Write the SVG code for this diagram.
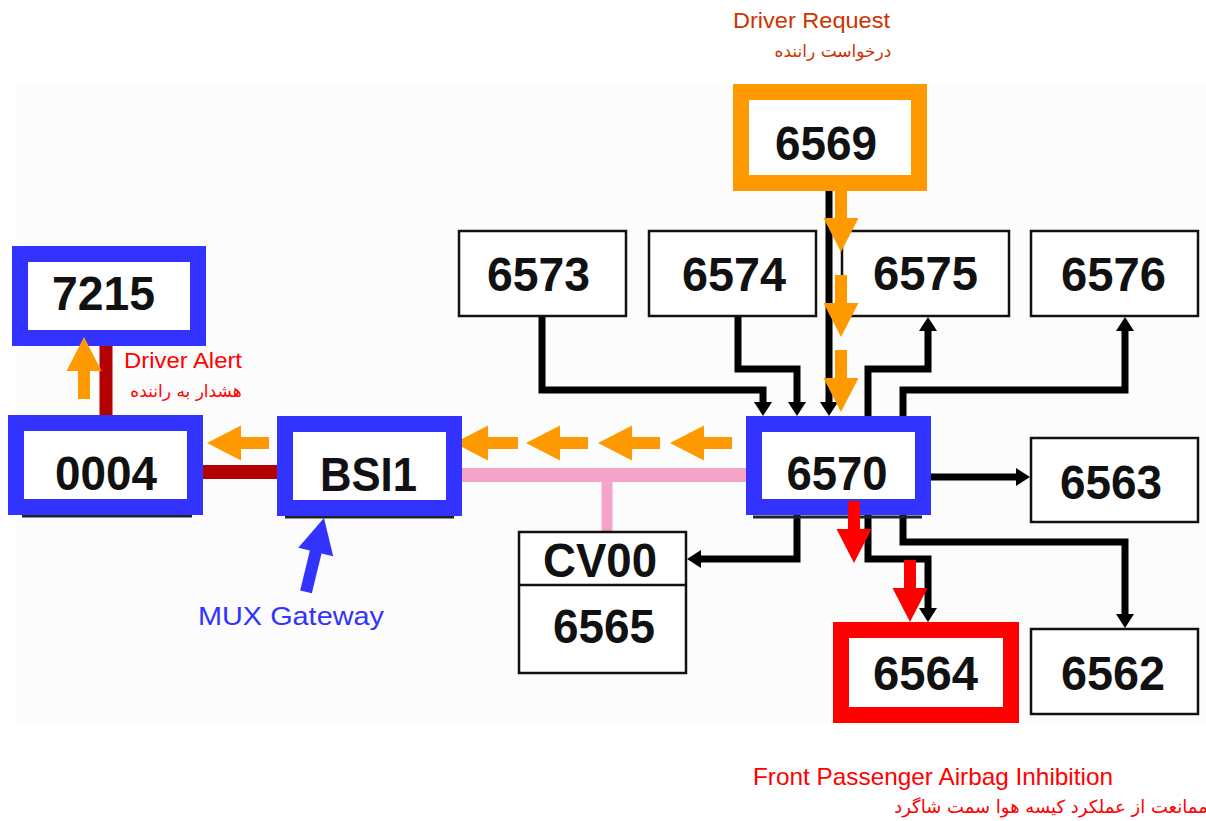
<svg xmlns="http://www.w3.org/2000/svg" width="1206" height="821" viewBox="0 0 1206 821">
<style>
.box{fill:#fff;stroke:#111;stroke-width:2.5}
.bb{fill:#fff;stroke:#3333ff;stroke-width:16}
.ob{fill:#fff;stroke:#ff9900;stroke-width:16}
.rb{fill:#fff;stroke:#ff0000;stroke-width:16}
.n{font-family:"Liberation Sans",Arial,sans-serif;font-weight:bold;font-size:48px;fill:#111;text-anchor:middle}
.c{fill:none;stroke:#000;stroke-width:7;stroke-linejoin:miter}
.lat{font-family:"Liberation Sans",Arial,sans-serif}
.fa{font-family:"DejaVu Sans","Noto Sans",sans-serif;text-anchor:middle}
.oa{fill:#ff9900}
.ra{fill:#ff0000}
.sh{stroke:#222;stroke-width:3}
</style>
<defs>
<marker id="ah" markerUnits="userSpaceOnUse" markerWidth="14" markerHeight="18" refX="6" refY="9" orient="auto" overflow="visible">
<path d="M0,0 L14,9 L0,18 Z" fill="#000"/>
</marker>
<path id="sig" d="M0,0 L34,-17.5 L34,-6 L62,-6 L62,6 L34,6 L34,17.5 Z"/>
</defs>
<rect x="17" y="85" width="1189" height="640" fill="#fcfcfc"/>

<g id="buses">
<path d="M106,346 V415" stroke="#b30000" stroke-width="13" fill="none"/>
<path d="M203,472 H277" stroke="#b30000" stroke-width="14" fill="none"/>
<path d="M462,475 H746" stroke="#f5a3c6" stroke-width="14" fill="none"/>
<path d="M607,475 V531" stroke="#f5a3c6" stroke-width="11" fill="none"/>
</g>

<g id="connectors">
<path class="c" d="M542,317 V390 H763 V408" marker-end="url(#ah)"/>
<path class="c" d="M738,317 V369 H797 V408" marker-end="url(#ah)"/>
<path class="c" d="M829,191 V408" marker-end="url(#ah)"/>
<path class="c" d="M868,416 V369 H928 V325" marker-end="url(#ah)"/>
<path class="c" d="M903,416 V390 H1125 V325" marker-end="url(#ah)"/>
<path class="c" d="M931,477 H1022" marker-end="url(#ah)"/>
<path class="c" d="M903,515 V542 H1125 V620" marker-end="url(#ah)"/>
<path class="c" d="M868,515 V559 H928 V614" marker-end="url(#ah)"/>
<path class="c" d="M797,515 V559 H695" marker-end="url(#ah)"/>
</g>

<g id="n6569"><rect class="ob" x="741" y="92" width="178" height="91"/><text class="n" x="826" y="160" font-size="56" textLength="102" lengthAdjust="spacingAndGlyphs">6569</text></g>
<g id="n6573"><rect class="box" x="459" y="231" width="167" height="85"/><text class="n" x="538.5" y="291" font-size="52" textLength="103" lengthAdjust="spacingAndGlyphs">6573</text></g>
<g id="n6574"><rect class="box" x="649" y="231" width="167" height="85"/><text class="n" x="734" y="291" font-size="52" textLength="104" lengthAdjust="spacingAndGlyphs">6574</text></g>
<g id="n6575"><rect class="box" x="842" y="231" width="167" height="85"/><text class="n" x="925.5" y="290" font-size="52" textLength="105" lengthAdjust="spacingAndGlyphs">6575</text></g>
<g id="n6576"><rect class="box" x="1031" y="231" width="167" height="85"/><text class="n" x="1113.5" y="291" font-size="52" textLength="105" lengthAdjust="spacingAndGlyphs">6576</text></g>
<g id="n6563"><rect class="box" x="1031" y="438" width="167" height="84"/><text class="n" x="1111" y="499" font-size="50" textLength="102" lengthAdjust="spacingAndGlyphs">6563</text></g>
<g id="n6562"><rect class="box" x="1031" y="629" width="167" height="85"/><text class="n" x="1113" y="690" font-size="49" textLength="104" lengthAdjust="spacingAndGlyphs">6562</text></g>
<g id="n6565"><rect class="box" x="519" y="532" width="167" height="141"/><path d="M519,585 H686" stroke="#111" stroke-width="2.5"/><text class="n" x="600" y="577" font-size="45" textLength="114" lengthAdjust="spacingAndGlyphs">CV00</text><text class="n" x="604" y="643" font-size="44" textLength="102" lengthAdjust="spacingAndGlyphs">6565</text></g>
<g id="n6570"><path class="sh" d="M753,517 H922"/><rect class="bb" x="754" y="424" width="169" height="83"/><text class="n" x="837" y="490" font-size="46" textLength="101" lengthAdjust="spacingAndGlyphs">6570</text></g>
<g id="n6564"><rect class="rb" x="841" y="630" width="170" height="85"/><text class="n" x="925.5" y="690" font-size="49" textLength="105" lengthAdjust="spacingAndGlyphs">6564</text></g>
<g id="n7215"><rect class="bb" x="20" y="254" width="178" height="84"/><text class="n" x="103.5" y="310" font-size="46" textLength="103" lengthAdjust="spacingAndGlyphs">7215</text></g>
<g id="n0004"><path class="sh" d="M22,516 H192"/><rect class="bb" x="16" y="423" width="179" height="84"/><text class="n" x="106" y="490" font-size="46" textLength="102" lengthAdjust="spacingAndGlyphs">0004</text></g>
<g id="nBSI1"><path class="sh" d="M285,517 H454"/><rect class="bb" x="285" y="424" width="169" height="84"/><text class="n" x="368.5" y="491" font-size="50" textLength="97" lengthAdjust="spacingAndGlyphs">BSI1</text></g>

<g id="signals">
<path class="oa" d="M462,439 L488,425.5 L488,437 L518,437 L518,449 L488,449 L488,460.5 L462,447 Z"/>
<use href="#sig" class="oa" transform="translate(526,443)"/>
<use href="#sig" class="oa" transform="translate(598,443)"/>
<use href="#sig" class="oa" transform="translate(670,443)"/>
<use href="#sig" class="oa" transform="translate(207,443)"/>
<use href="#sig" class="oa" transform="translate(84,337) rotate(90)"/>
<use href="#sig" class="oa" transform="translate(841,252) rotate(-90)"/>
<use href="#sig" class="oa" transform="translate(841,337) rotate(-90)"/>
<use href="#sig" class="oa" transform="translate(841,412) rotate(-90)"/>
<use href="#sig" class="ra" transform="translate(854,563) rotate(-90)"/>
<use href="#sig" class="ra" transform="translate(910,622) rotate(-90)"/>
<path d="M0,0 L35,-18 L35,-6 L76,-6 L76,6 L35,6 L35,18 Z" fill="#3333ff" transform="translate(324,518) rotate(103.7)"/>
</g>

<g id="labels">
<text class="lat" x="733" y="28" font-size="22" fill="#cc3300" textLength="157" lengthAdjust="spacingAndGlyphs">Driver Request</text>
<text class="fa" x="833" y="57" font-size="17" fill="#cc3300">درخواست راننده</text>
<text class="lat" x="124" y="368" font-size="22" fill="#ff0000" textLength="118" lengthAdjust="spacingAndGlyphs">Driver Alert</text>
<text class="fa" x="186" y="397" font-size="17" fill="#ff0000">هشدار به راننده</text>
<text class="lat" x="198" y="625" font-size="26" fill="#3333ff" textLength="186" lengthAdjust="spacingAndGlyphs">MUX Gateway</text>
<text class="lat" x="753" y="785" font-size="24" fill="#ff0000" textLength="360" lengthAdjust="spacingAndGlyphs">Front Passenger Airbag Inhibition</text>
<text class="fa" x="1051" y="813" font-size="18" fill="#ff0000">ممانعت از عملکرد کیسه هوا سمت شاگرد</text>
</g>
</svg>
